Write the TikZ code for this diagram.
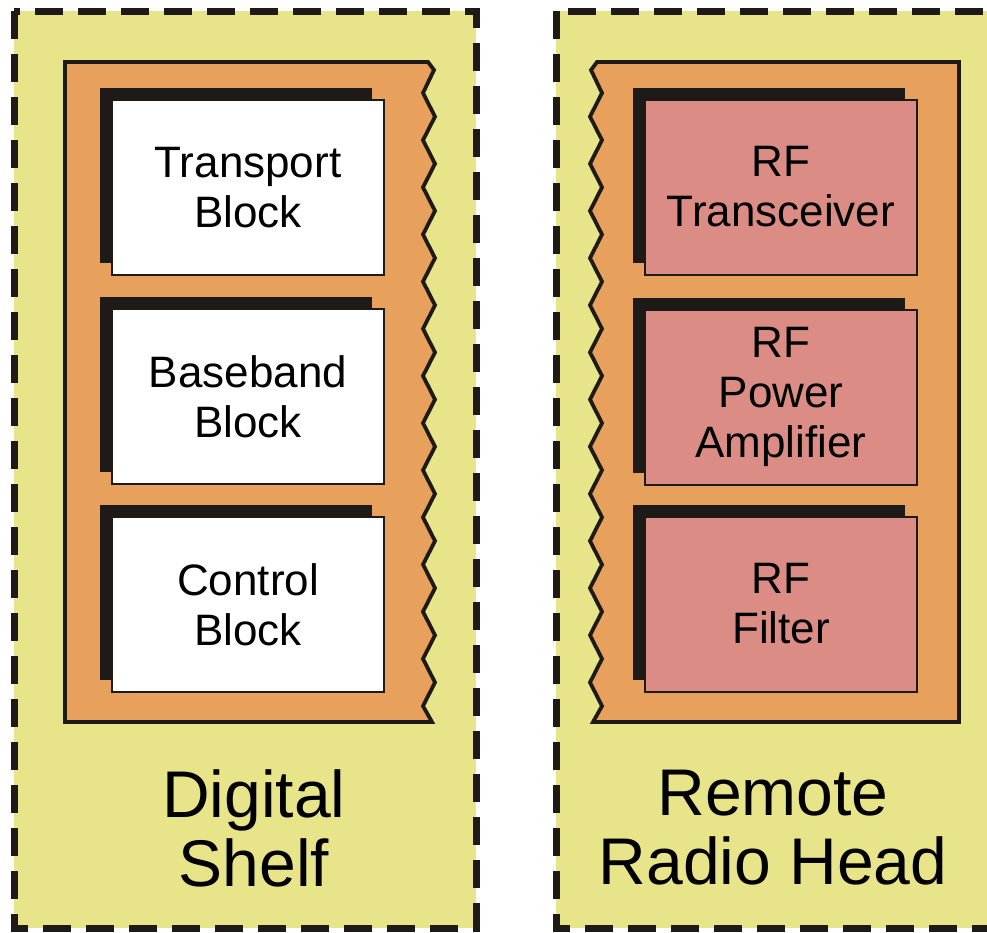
\documentclass[tikz,border=0pt]{standalone}
\usepackage{fontspec}
\setmainfont{Liberation Sans}
\usetikzlibrary{shadows}
\definecolor{shelfyellow}{HTML}{E8E48A}
\definecolor{rackorange}{HTML}{E8A15C}
\definecolor{rfpink}{HTML}{DB8D85}
\definecolor{inkdark}{HTML}{1E1A18}
\tikzset{
  dashframe/.style={draw=inkdark, line width=7pt, dash pattern=on 28pt off 15pt},
  rack/.style={fill=rackorange, draw=inkdark, line width=3.8pt, line join=miter},
  blockbox/.style={draw=inkdark, line width=2pt, minimum width=272pt, minimum height=175pt,
    inner sep=0pt, align=center, font=\fontsize{44}{50}\selectfont,
    general shadow={fill=inkdark, shadow xshift=-12pt, shadow yshift=12pt}},
  digbox/.style={blockbox, fill=white},
  rfbox/.style={blockbox, fill=rfpink},
  biglabel/.style={align=center, inner sep=0pt, font=\fontsize{66}{69}\selectfont}
}
\begin{document}
\begin{tikzpicture}[x=1pt, y=-1pt]
\useasboundingbox (0,0) rectangle (987,932);
\clip (0,0) rectangle (987,932);

% enclosures
\fill[shelfyellow] (14,11) rectangle (476,928);
\draw[dashframe] (14,11) rectangle (476,928);
\fill[shelfyellow] (556,11) rectangle (992,928);
\draw[dashframe] (556,11) rectangle (992,928);

% torn-edge racks
\draw[rack] (65,62) -- (428,62) -- (434,70)
  foreach \k in {0,...,12} { -- (423,{93+47.15*\k}) -- (435,{116.6+47.15*\k}) }
  -- (423,706) -- (432,722) -- (65,722) -- cycle;
\draw[rack] (959,62) -- (597,62) -- (591,70)
  foreach \k in {0,...,12} { -- (602,{93+47.15*\k}) -- (590,{116.6+47.15*\k}) }
  -- (602,706) -- (593,722) -- (959,722) -- cycle;

% digital shelf blocks
\node[digbox] (transport) at (248,187.5) {Transport\\Block};
\node[digbox] (baseband) at (248,396.5) {Baseband\\Block};
\node[digbox] (control) at (248,604.5) {Control\\Block};

% remote radio head blocks
\node[rfbox] (trx) at (781,187) {RF\\Transceiver};
\node[rfbox] (pa) at (781,397) {RF\\Power\\Amplifier};
\node[rfbox] (filter) at (781,604) {RF\\Filter};

% captions
\node[biglabel] (shelf) at (254,828) {Digital\\Shelf};
\node[biglabel] (rrh) at (773,828) {Remote\\Radio Head};
\end{tikzpicture}
\end{document}
